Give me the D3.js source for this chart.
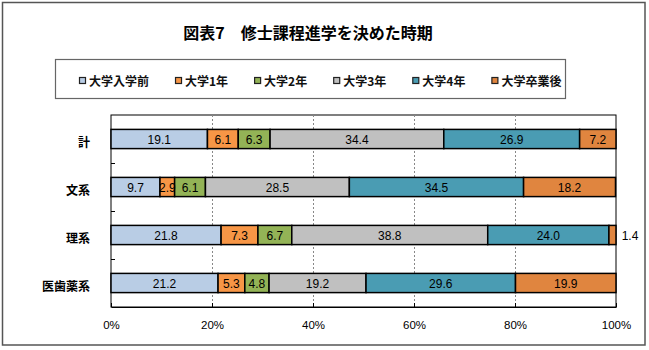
<!DOCTYPE html>
<html><head><meta charset="utf-8">
<script src="https://cdn.jsdelivr.net/npm/d3@7/dist/d3.min.js"></script>
<style>
html,body{margin:0;padding:0;background:#fff;}
svg{display:block;}
</style></head>
<body>
<svg id="chart" width="649" height="350"></svg>
<script>
const title = "図表7　修士課程進学を決めた時期";
const categories = ["計", "文系", "理系", "医歯薬系"];
const seriesNames = ["大学入学前", "大学1年", "大学2年", "大学3年", "大学4年", "大学卒業後"];
const seriesColors = ["#B9CDE5", "#F79646", "#93B356", "#C0C0C0", "#4A9CB3", "#E0853F"];
const vPre  = [19.1, 9.7, 21.8, 21.2];
const vY1   = [6.1, 2.9, 7.3, 5.3];
const vY2   = [6.3, 6.1, 6.7, 4.8];
const vY3   = [34.4, 28.5, 38.8, 19.2];
const vY4   = [26.9, 34.5, 24.0, 29.6];
const vPost = [7.2, 18.2, 1.4, 19.9];
const seriesValues = [vPre, vY1, vY2, vY3, vY4, vPost];
const xTicks = [0, 20, 40, 60, 80, 100];

const svg = d3.select("#chart");
const CJK = "'Noto Sans CJK JP', sans-serif";
const NUM = "'Liberation Sans', Arial, sans-serif";

// outer frame
svg.append("rect").attr("x", 2.5).attr("y", 2.5).attr("width", 642.5).attr("height", 342.5)
  .attr("fill", "none").attr("stroke", "#555").attr("stroke-width", 1.5);

// title
svg.append("text").attr("x", 308).attr("y", 32).attr("text-anchor", "middle")
  .attr("dominant-baseline", "central").attr("font-family", CJK).attr("font-size", 16)
  .attr("font-weight", "bold").attr("fill", "#000").text(title);

// legend
svg.append("rect").attr("x", 55.5).attr("y", 59.5).attr("width", 510).attr("height", 39)
  .attr("fill", "#fff").attr("stroke", "#666").attr("stroke-width", 1.2);
let lx = 79;
seriesNames.forEach((name, i) => {
  const g = svg.append("g");
  g.append("rect").attr("x", lx + 0.5).attr("y", 77.5).attr("width", 6).attr("height", 6)
    .attr("fill", seriesColors[i]).attr("stroke", "#222").attr("stroke-width", 1.2);
  const t = g.append("text").attr("x", lx + 10).attr("y", 80.5).attr("dominant-baseline", "central")
    .attr("font-family", CJK).attr("font-size", 12).attr("font-weight", "bold").attr("fill", "#111").text(name);
  lx += 10 + t.node().getComputedTextLength() + 26;
});

// scales
const x = d3.scaleLinear().domain([0, 100]).range([111, 616]);
const y = d3.scaleBand().domain(categories).range([115, 307]).paddingInner(0.6).paddingOuter(0.3);
const plotTop = 115, plotBottom = 307;

// plot area border
svg.append("rect").attr("x", x(0)).attr("y", plotTop).attr("width", x(100) - x(0)).attr("height", plotBottom - plotTop)
  .attr("fill", "#fff").attr("stroke", "#000").attr("stroke-width", 1);

// gridlines
svg.append("g").selectAll("line").data(xTicks.filter(d => d > 0 && d < 100)).join("line")
  .attr("x1", d => x(d) + 0.5).attr("x2", d => x(d) + 0.5).attr("y1", plotTop).attr("y2", plotBottom)
  .attr("stroke", "#888").attr("stroke-width", 1).attr("stroke-dasharray", "2,2");

// x axis labels + ticks
const xAxis = d3.axisBottom(x).tickValues(xTicks).tickFormat(d => d + "%").tickSizeInner(-4).tickSizeOuter(0).tickPadding(14);
const gx = svg.append("g").attr("transform", `translate(0,${plotBottom})`).call(xAxis);
gx.select(".domain").attr("stroke", "#000");
gx.selectAll(".tick line").attr("stroke", "#000");
gx.selectAll(".tick text").attr("font-family", NUM).attr("font-size", 11.5).attr("fill", "#000");

// y ticks between categories
const bounds = categories.slice(1).map(c => y(c) - y.step() * y.paddingInner() / 2);
svg.append("g").selectAll("line").data(bounds).join("line")
  .attr("x1", x(0)).attr("x2", x(0) + 4).attr("y1", d => d + 0.5).attr("y2", d => d + 0.5)
  .attr("stroke", "#000");

// category labels
svg.append("g").selectAll("text").data(categories).join("text")
  .attr("x", 90).attr("y", d => y(d) + y.bandwidth() / 2 + 2).attr("text-anchor", "end")
  .attr("dominant-baseline", "central").attr("font-family", CJK).attr("font-size", 12)
  .attr("font-weight", "bold").attr("fill", "#000").text(d => d);

// stacked bars
const rows = categories.map((c, ci) => {
  let acc = 0;
  return seriesValues.map((vals, si) => {
    const seg = { cat: c, si, v: vals[ci], x0: acc, x1: acc + vals[ci] };
    acc += vals[ci];
    return seg;
  });
}).flat();

svg.append("g").selectAll("rect").data(rows).join("rect")
  .attr("x", d => x(d.x0)).attr("y", d => y(d.cat))
  .attr("width", d => x(d.x1) - x(d.x0)).attr("height", y.bandwidth())
  .attr("fill", d => seriesColors[d.si]).attr("stroke", "#000").attr("stroke-width", 1.5);

svg.append("g").selectAll("text").data(rows).join("text")
  .attr("x", d => d.v < 2 ? x(d.x1) + 14 : (x(d.x0) + x(d.x1)) / 2)
  .attr("y", d => y(d.cat) + y.bandwidth() / 2 + 1)
  .attr("text-anchor", "middle").attr("dominant-baseline", "central")
  .attr("font-family", NUM).attr("font-size", 12).attr("fill", "#000")
  .text(d => d.v.toFixed(1));
</script>
</body></html>
